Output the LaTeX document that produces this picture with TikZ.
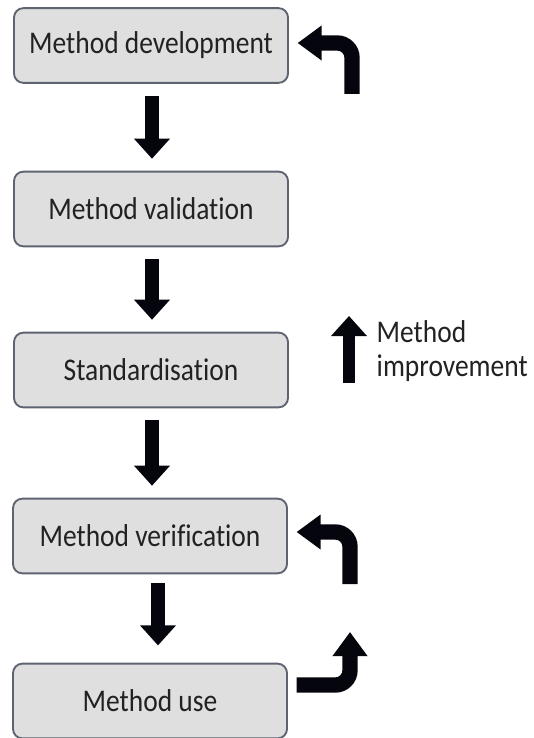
\documentclass[tikz,border=0pt]{standalone}
\usepackage{fontspec}
\setmainfont{Carlito}[Ligatures=NoCommon]
\usetikzlibrary{arrows.meta}
\definecolor{boxfill}{HTML}{DFDFDF}
\definecolor{boxline}{HTML}{5E6370}
\definecolor{inkdark}{HTML}{222222}
\definecolor{arrowink}{HTML}{05050D}
\newcommand\tallText[1]{\scalebox{1}[1.15]{#1}}
\begin{document}
\begin{tikzpicture}[x=0.75pt,y=-0.75pt,
  stage/.style={draw=boxline, fill=boxfill, line width=1.4pt, rounded corners=7pt,
    minimum width=205.5pt, minimum height=56pt, text=inkdark,
    font=\fontsize{20.6}{24}\selectfont},
  flow/.style={draw=arrowink, line width=10.5pt,
    -{Triangle[width=26pt,length=15pt]}},
  loop/.style={draw=arrowink, line width=11.5pt, rounded corners=11pt,
    -{Triangle[width=25pt,length=18pt]}},
  note/.style={text=inkdark, font=\fontsize{20.6}{22}\selectfont, align=left}]
\useasboundingbox (0,0) rectangle (533,738);

% process stages
\node[stage] (dev) at (151,45.5) {\tallText{Method development}};
\node[stage] (val) at (151,209) {\tallText{Method validation}};
\node[stage] (std) at (151,370) {\tallText{Standardisation}};
\node[stage] (ver) at (150,536) {\tallText{Method verification}};
\node[stage] (use) at (150,701) {\tallText{Method use}};

% downward flow between stages
\draw[flow] ([xshift=0.75pt,yshift=-9pt]dev.south) -- ([xshift=0.75pt,yshift=9pt]val.north);
\draw[flow] ([xshift=0.75pt,yshift=-9pt]val.south) -- ([xshift=0.75pt,yshift=9pt]std.north);
\draw[flow] ([xshift=0.75pt,yshift=-9pt]std.south) -- ([xshift=1.5pt,yshift=9pt]ver.north);
\draw[flow] ([xshift=6pt,yshift=-6.5pt]ver.south) -- ([xshift=6pt,yshift=13pt]use.north);

% feedback loops on the right
\coordinate (devfoot) at (352,94);
\draw[loop] (devfoot) |- ([xshift=6.5pt]dev.east |- 0,43);
\coordinate (verfoot) at (350,584);
\draw[loop] (verfoot) |- ([xshift=6.5pt]ver.east |- 0,532);
\coordinate (usetop) at (350,632);
\draw[loop] ([xshift=6.5pt]use.east |- 0,685) -| (usetop);

% improvement marker
\coordinate (impbase) at (349,383);
\coordinate (imptip) at (349,316);
\draw[flow, line width=9.5pt] (impbase) -- (imptip);
\node[note, anchor=west] (imp) at (372,351)
  {\tallText{Method}\\[4pt]\tallText{improvement}};
\end{tikzpicture}
\end{document}
